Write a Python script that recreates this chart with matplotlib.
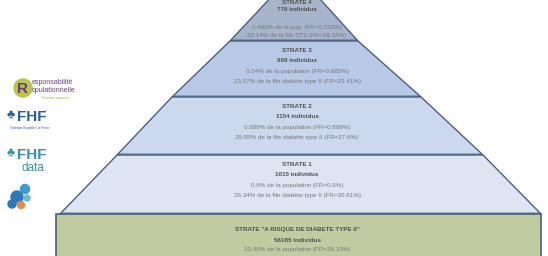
import matplotlib.pyplot as plt
from matplotlib.patches import Polygon, Rectangle, Circle

plt.rcParams['font.family'] = ['Liberation Sans', 'DejaVu Sans']

# DATA (top of pyramid first)
strata = ["STRATE 4", "STRATE 3", "STRATE 2", "STRATE 1"]
individus = [776, 908, 1154, 1015]
pop_lines = ["0.462% de la pop. (FR=0.532%)",
             "0.54% de la population (FR=0.685%)",
             "0.688% de la population (FR=0.808%)",
             "0.6% de la population (FR=0.9%)"]
file_lines = ["20.14% de la file DT2 (FR=18.18%)",
              "23.57% de la file diabète type II (FR=23.41%)",
              "29.95% de la file diabète type II (FR=27.6%)",
              "26.34% de la file diabète type II (FR=30.81%)"]
risk_label = 'STRATE "A RISQUE DE DIABETE TYPE II"'
risk_individus = 56185
risk_line = "33.48% de la population (FR=26.33%)"

# LAYOUT (pixel coordinates)
W, H = 548, 256
CX = 297
bounds_y = [-22, 41, 97, 155, 214]
bounds_l = [289, 230, 172, 117, 60]
bounds_r = [301, 358, 421, 483, 541]
fills = ["#a7b4cb", "#b7c9e6", "#ccd8ee", "#dde5f3"]
EDGE = "#4a5f80"
TXT = "#777777"
TXT_B = "#505050"
FS = 4.5

fig = plt.figure(figsize=(W / 100, H / 100), dpi=100)
ax = fig.add_axes([0, 0, 1, 1])
ax.set_xlim(0, W)
ax.set_ylim(H, 0)
ax.axis("off")

for i in range(len(strata)):
    y0, y1 = bounds_y[i], bounds_y[i + 1]
    pts = [(bounds_l[i], y0), (bounds_r[i], y0),
           (bounds_r[i + 1], y1), (bounds_l[i + 1], y1)]
    ax.add_patch(Polygon(pts, closed=True, facecolor=fills[i],
                         edgecolor=EDGE, lw=1.0, joinstyle="miter"))
    ax.plot([bounds_l[i + 1] + 2, bounds_r[i + 1] - 2], [y1 - 1.6, y1 - 1.6],
            color=EDGE, lw=0.5, alpha=0.6)
    if i == 0:
        ys = [2.5, 9.5, 27, 36]
    else:
        ys = [y0 + 9, y0 + 19.5, y0 + 30, y0 + 41]
    ax.text(CX, ys[0], strata[i], ha="center", va="center", fontsize=FS,
            color=TXT_B, fontweight="bold")
    ax.text(CX, ys[1], f"{individus[i]} individus", ha="center",
            va="center", fontsize=FS, color=TXT_B, fontweight="bold")
    ax.text(CX, ys[2], pop_lines[i], ha="center", va="center",
            fontsize=FS, color=TXT)
    ax.text(CX, ys[3], file_lines[i], ha="center", va="center",
            fontsize=FS, color=TXT)

# bottom "à risque" box
ax.add_patch(Rectangle((56, 214), bounds_r[-1] - 56, 60, facecolor="#c1cba2",
                       edgecolor=EDGE, lw=1.2))
ax.text(CX, 230, risk_label, ha="center", va="center", fontsize=FS,
        color=TXT_B, fontweight="bold")
ax.text(CX, 240, f"{risk_individus} individus", ha="center", va="center",
        fontsize=FS, color=TXT_B, fontweight="bold")
ax.text(CX, 250, risk_line, ha="center", va="center", fontsize=FS, color=TXT)

# LOGOS on the left
ax.add_patch(Circle((23, 88), 9, color="#b8c44a"))
ax.text(23, 89, "R", ha="center", va="center", fontsize=11, color="#6a3d7a",
        fontweight="bold")
ax.text(32, 83, "esponsabilité", fontsize=5, color="#6a3d7a", va="center")
ax.text(32, 91, "opulationnelle", fontsize=5, color="#6a3d7a", va="center")
ax.text(41, 98, "Territoires pionniers", fontsize=2.3, color="#9aaa3a",
        va="center")

ax.text(17, 117, "FHF", fontsize=11, color="#2a5e9c", fontweight="bold",
        va="center")
ax.text(7, 115, "♣", fontsize=9, color="#2a5e9c", va="center")
ax.text(10, 128, "Fédération Hospitalière de France", fontsize=1.9,
        color="#2a5e9c", va="center")

ax.text(17, 155, "FHF", fontsize=11, color="#3b8fb0", fontweight="bold",
        va="center")
ax.text(7, 153, "♣", fontsize=9, color="#3b8fb0", va="center")
ax.text(21, 168, "data", fontsize=8.5, color="#3b8fb0", va="center")

for (x, y, r, c) in [(17, 197, 6, "#2f78b6"), (25, 189, 4.5, "#3e9ad0"),
                     (12, 204, 4, "#2f78b6"), (21, 205, 3.5, "#e38b4a"),
                     (27, 198, 3, "#6db7e0")]:
    ax.add_patch(Circle((x, y), r, color=c))

fig.savefig("out.png", dpi=100)
